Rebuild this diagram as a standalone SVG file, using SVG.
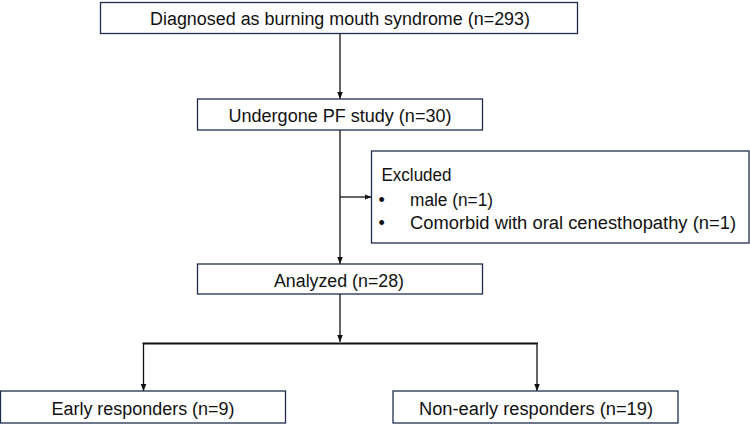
<svg xmlns="http://www.w3.org/2000/svg" width="750" height="431" viewBox="0 0 750 431">
<style>
.box{fill:#fff;stroke:#1f2d4d;stroke-width:1.3}
.t{font-family:"Liberation Sans",Arial,sans-serif;font-size:18px;fill:#111}
.c{text-anchor:middle}
.ln{stroke:#111;stroke-width:1.3;fill:none}
</style>
<defs>
<marker id="ah" markerWidth="8" markerHeight="8" refX="7" refY="4" orient="auto" markerUnits="userSpaceOnUse">
<path d="M0,1.2 L7,4 L0,6.8 Z" fill="#111"/>
</marker>
</defs>
<rect width="750" height="431" fill="#fff"/>
<g id="connectors">
<line class="ln" x1="340" y1="33.5" x2="340" y2="99" marker-end="url(#ah)"/>
<line class="ln" x1="340" y1="130" x2="340" y2="264" marker-end="url(#ah)"/>
<line class="ln" x1="340" y1="197" x2="371.5" y2="197" marker-end="url(#ah)"/>
<line class="ln" x1="340" y1="294" x2="340" y2="342" marker-end="url(#ah)"/>
<polyline points="143.5,344 143.5,343.5 537,343.5 537,344" fill="none" stroke="#111" stroke-width="2"/>
<line class="ln" x1="143.5" y1="343" x2="143.5" y2="391" marker-end="url(#ah)"/>
<line class="ln" x1="537" y1="343" x2="537" y2="391" marker-end="url(#ah)"/>
</g>
<g id="n1">
<rect class="box" x="100.5" y="2.5" width="477" height="31"/>
<text class="t c" x="340" y="25" textLength="380" lengthAdjust="spacingAndGlyphs">Diagnosed as burning mouth syndrome (n=293)</text>
</g>
<g id="n2">
<rect class="box" x="197.5" y="99" width="285" height="31"/>
<text class="t c" x="340" y="122" textLength="223" lengthAdjust="spacingAndGlyphs">Undergone PF study (n=30)</text>
</g>
<g id="n3">
<rect class="box" x="371.5" y="151" width="377.5" height="92"/>
<text class="t" x="381.5" y="181" textLength="70" lengthAdjust="spacingAndGlyphs">Excluded</text>
<text class="t" x="378.5" y="205.5">•</text>
<text class="t" x="410" y="205.5" textLength="83" lengthAdjust="spacingAndGlyphs">male (n=1)</text>
<text class="t" x="378.5" y="229">•</text>
<text class="t" x="410" y="229" textLength="326" lengthAdjust="spacingAndGlyphs">Comorbid with oral cenesthopathy (n=1)</text>
</g>
<g id="n4">
<rect class="box" x="197.5" y="264" width="285" height="30"/>
<text class="t c" x="339" y="287" textLength="130" lengthAdjust="spacingAndGlyphs">Analyzed (n=28)</text>
</g>
<g id="n5">
<rect class="box" x="0.5" y="391" width="285" height="32"/>
<text class="t c" x="143" y="415" textLength="183" lengthAdjust="spacingAndGlyphs">Early responders (n=9)</text>
</g>
<g id="n6">
<rect class="box" x="393" y="391" width="285" height="32"/>
<text class="t c" x="536" y="415" textLength="234" lengthAdjust="spacingAndGlyphs">Non-early responders (n=19)</text>
</g>
</svg>
